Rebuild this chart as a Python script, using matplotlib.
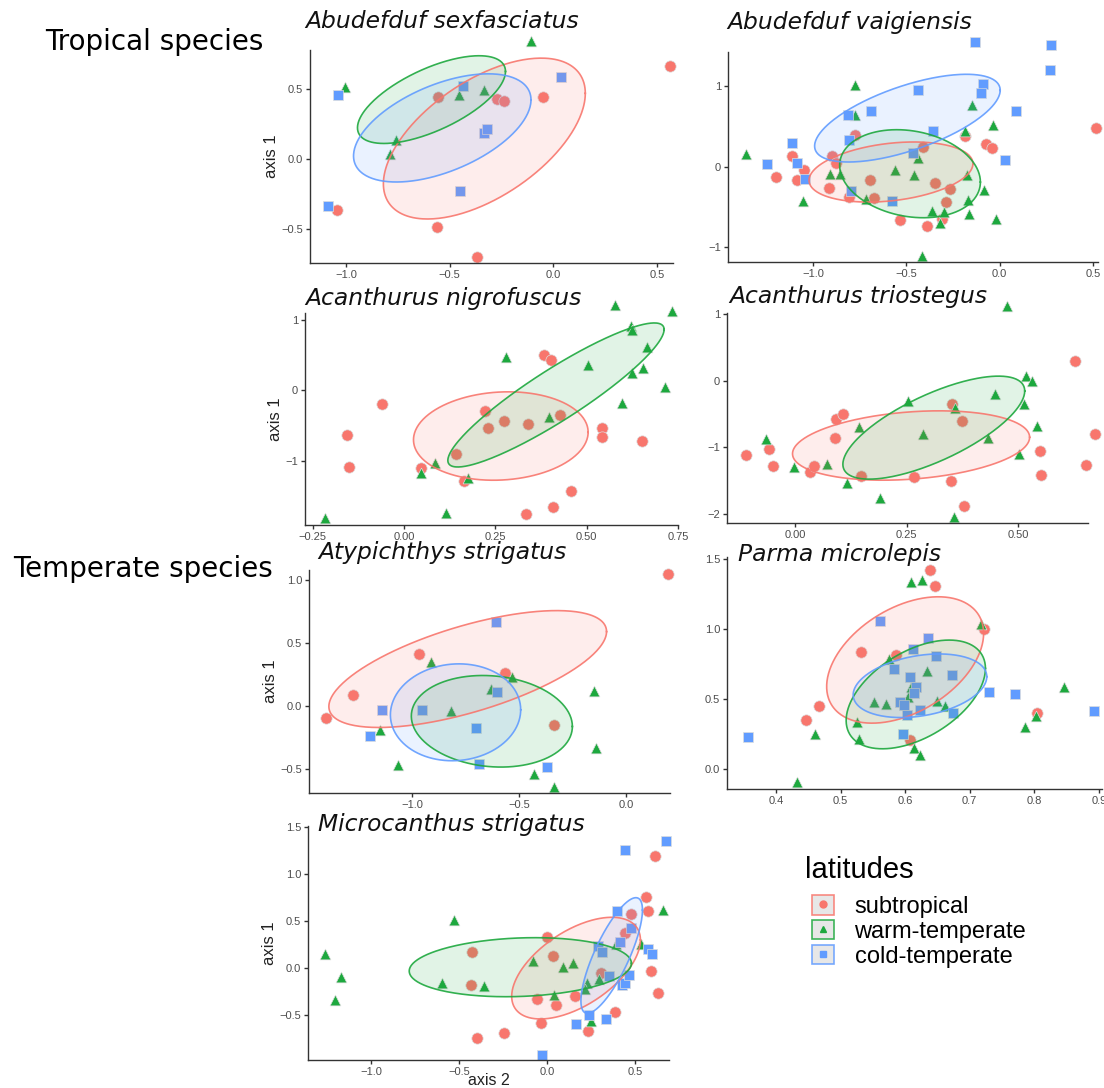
import numpy as np
import matplotlib
matplotlib.use("Agg")
import matplotlib.pyplot as plt
from matplotlib.patches import Patch
from matplotlib.lines import Line2D

plt.rcParams['font.family'] = ['Liberation Sans', 'DejaVu Sans']

W, H = 1104, 1088
groups = ['subtropical', 'warm-temperate', 'cold-temperate']
colors = ['#F8766D', '#1DA83E', '#619CFF']
markers = ['o', '^', 's']

# --- Abudefduf sexfasciatus ---
sexf_sub = [(0.563, 0.663), (-0.555, 0.443), (-0.273, 0.433), (-0.236, 0.416), (-0.051, 0.447),
            (-1.042, -0.361), (-0.563, -0.483), (-0.370, -0.696)]
sexf_warm = [(-0.108, 0.847), (-1.003, 0.519), (-0.759, 0.136), (-0.788, 0.038), (-0.455, 0.457),
             (-0.333, 0.495)]
sexf_cold = [(-1.037, 0.457), (-1.085, -0.335), (-0.437, 0.524), (-0.336, 0.189), (-0.318, 0.215),
             (-0.450, -0.227), (0.037, 0.586)]
# ellipse: centre x, centre y, half width, half height, y offset at rightmost point
sexf_ell = [(-0.333, 0.148, 0.487, 0.574, 0.323), (-0.588, 0.426, 0.357, 0.313, 0.201),
            (-0.536, 0.224, 0.428, 0.386, 0.200)]

# --- Abudefduf vaigiensis ---
vaig_sub = [(0.514, 0.483), (-1.196, -0.128), (-1.112, 0.136), (-1.086, -0.169), (-1.050, -0.037),
            (-0.898, 0.128), (-0.875, 0.045), (-0.914, -0.260), (-0.777, 0.388), (-0.807, -0.376),
            (-0.696, -0.169), (-0.673, -0.388), (-0.411, 0.244), (-0.536, -0.665), (-0.389, -0.736),
            (-0.345, -0.207), (-0.268, -0.273), (-0.286, -0.438), (-0.307, -0.653), (-0.187, 0.380),
            (-0.075, 0.277), (-0.039, 0.231)]
vaig_warm = [(-1.357, 0.161), (-0.777, 1.008), (-0.777, 0.645), (-1.054, -0.430), (-0.911, -0.087),
             (-0.857, -0.095), (-0.714, -0.405), (-0.559, -0.045), (-0.439, 0.107), (-0.457, -0.107),
             (-0.150, 0.769), (-0.186, 0.438), (-0.036, 0.517), (-0.175, -0.107), (-0.082, -0.293),
             (-0.168, -0.417), (-0.164, -0.583), (-0.364, -0.550), (-0.300, -0.558), (-0.318, -0.694),
             (-0.018, -0.653), (-0.414, -1.103)]
vaig_cold = [(-0.130, 1.541), (0.273, 1.504), (0.268, 1.194), (-0.437, 0.946), (-0.089, 1.029),
             (-0.098, 0.913), (-0.687, 0.694), (-0.812, 0.645), (0.089, 0.690), (-0.357, 0.442),
             (-0.807, 0.326), (-1.112, 0.293), (-0.464, 0.174), (-1.246, 0.033), (-1.086, 0.050),
             (-1.041, -0.149), (0.027, 0.087), (-0.796, -0.302), (-0.579, -0.430)]
vaig_ell = [(-0.582, -0.066, 0.439, 0.372, 0.103), (-0.480, -0.087, 0.377, 0.545, -0.103),
            (-0.494, 0.601, 0.497, 0.543, 0.345)]

# --- Acanthurus nigrofuscus ---
nigr_sub = [(-0.061, -0.199), (-0.157, -0.629), (-0.150, -1.092), (0.046, -1.106), (0.141, -0.913),
            (0.165, -1.296), (0.223, -0.288), (0.231, -0.534), (0.274, -0.440), (0.339, -0.478),
            (0.383, 0.506), (0.403, 0.435), (0.426, -0.355), (0.541, -0.530), (0.541, -0.662),
            (0.652, -0.728), (0.457, -1.437), (0.408, -1.664), (0.335, -1.768)]
nigr_warm = [(-0.215, -1.816), (0.047, -1.173), (0.085, -1.031), (0.114, -1.754), (0.175, -1.248),
             (0.280, 0.478), (0.397, -0.374), (0.505, 0.364), (0.577, 1.225), (0.620, 0.927),
             (0.623, 0.870), (0.623, 0.255), (0.665, 0.619), (0.655, 0.317), (0.597, -0.180),
             (0.715, 0.052), (0.734, 1.130)]
nigr_ell = [(0.265, -0.650, 0.239, 0.631, 0.054), (0.416, -0.064, 0.296, 1.028, 0.934), None]

# --- Acanthurus triostegus ---
trio_sub = [(-0.110, -1.123), (-0.059, -1.023), (-0.050, -1.282), (0.034, -1.371), (0.043, -1.282),
            (0.090, -0.859), (0.092, -0.576), (0.108, -0.502), (0.148, -1.436), (0.266, -1.446),
            (0.351, -0.348), (0.375, -0.601), (0.350, -1.510), (0.378, -1.878), (0.549, -1.063),
            (0.552, -1.411), (0.628, 0.303), (0.653, -1.272), (0.672, -0.800)]
trio_warm = [(-0.065, -0.874), (-0.002, -1.297), (0.071, -1.257), (0.117, -1.545), (0.144, -0.700),
             (0.190, -1.768), (0.252, -0.303), (0.287, -0.800), (0.358, -0.402), (0.357, -2.057),
             (0.433, -0.859), (0.448, -0.204), (0.475, 1.128), (0.513, -0.353), (0.519, 0.070),
             (0.532, -0.005), (0.543, -0.686), (0.502, -1.098)]
trio_ell = [(0.260, -0.974, 0.266, 0.522, 0.124), (0.311, -0.705, 0.204, 0.775, 0.551), None]

# --- Atypichthys strigatus ---
atyp_sub = [(-1.406, -0.095), (-1.278, 0.084), (-0.969, 0.411), (-0.566, 0.263), (-0.336, -0.147),
            (0.195, 1.042)]
atyp_warm = [(-0.914, 0.350), (-1.153, -0.192), (-1.066, -0.466), (-0.817, -0.039), (-0.630, 0.132),
             (-0.534, 0.234), (-0.433, -0.537), (-0.336, -0.637), (-0.152, 0.118), (-0.142, -0.332)]
atyp_cold = [(-1.197, -0.239), (-1.141, -0.029), (-0.955, -0.029), (-0.703, -0.174), (-0.602, 0.111),
             (-0.609, 0.668), (-0.688, -0.458), (-0.372, -0.479)]
atyp_ell = [(-0.741, 0.293, 0.650, 0.462, 0.296), (-0.628, -0.120, 0.377, 0.362, -0.041),
            (-0.798, -0.049, 0.305, 0.383, 0.020)]

# --- Parma microlepis ---
parm_sub = [(0.446, 0.351), (0.466, 0.453), (0.531, 0.838), (0.586, 0.817), (0.638, 1.419),
            (0.647, 1.305), (0.722, 0.999), (0.607, 0.209), (0.805, 0.404)]
parm_warm = [(0.433, -0.095), (0.460, 0.252), (0.525, 0.335), (0.529, 0.216), (0.552, 0.477),
             (0.570, 0.465), (0.575, 0.783), (0.604, 0.513), (0.609, 1.332), (0.609, 0.589),
             (0.626, 1.348), (0.614, 0.150), (0.623, 0.102), (0.634, 0.700), (0.650, 0.487),
             (0.661, 0.451), (0.718, 1.035), (0.786, 0.297), (0.802, 0.380), (0.846, 0.589)]
parm_cold = [(0.356, 0.228), (0.561, 1.054), (0.583, 0.717), (0.592, 0.482), (0.598, 0.458),
             (0.603, 0.387), (0.596, 0.252), (0.607, 0.660), (0.612, 0.859), (0.617, 0.589),
             (0.614, 0.541), (0.623, 0.423), (0.636, 0.933), (0.648, 0.809), (0.673, 0.672),
             (0.674, 0.399), (0.730, 0.548), (0.770, 0.536), (0.893, 0.413)]
parm_ell = [(0.600, 0.779, 0.1216, 0.451, 0.190), (0.6165, 0.533, 0.1079, 0.388, 0.186),
            (0.623, 0.595, 0.1035, 0.227, 0.065)]

# --- Microcanthus strigatus ---
micr_sub = [(-0.396, -0.742), (-0.243, -0.689), (-0.425, 0.170), (-0.432, -0.177), (0.000, 0.336),
            (0.034, 0.131), (-0.057, -0.329), (-0.038, -0.576), (0.049, -0.389), (0.155, -0.293),
            (0.228, -0.661), (0.304, -0.053), (0.385, -0.459), (0.440, 0.378), (0.472, 0.572),
            (0.557, 0.760), (0.572, 0.611), (0.587, -0.025), (0.608, 1.191), (0.628, -0.258)]
micr_warm = [(-1.258, 0.152), (-1.170, -0.092), (-1.202, -0.336), (-0.528, 0.512), (-0.596, -0.155),
             (-0.360, -0.184), (-0.081, 0.078), (0.036, -0.283), (0.091, 0.018), (0.147, 0.053),
             (0.223, -0.152), (0.213, -0.219), (0.247, -0.558), (0.291, -0.117), (0.387, 0.258),
             (0.530, 0.258), (0.657, 0.615)]
micr_cold = [(-0.032, -0.919), (0.160, -0.590), (0.236, -0.491), (0.330, -0.541), (0.285, 0.240),
             (0.309, 0.173), (0.347, -0.081), (0.396, 0.608), (0.413, 0.279), (0.425, -0.180),
             (0.443, -0.152), (0.462, -0.067), (0.477, 0.424), (0.443, 1.254), (0.572, 0.208),
             (0.594, 0.148), (0.675, 1.350)]
micr_ell = [(0.163, 0.002, 0.365, 0.539, 0.299), (-0.153, 0.012, 0.630, 0.313, 0.041),
            (0.365, 0.136, 0.1745, 0.613, 0.482)]

# panel: title, points per group, ellipses, axes box (px), xlim, ylim, xticks, yticks, title pos
panels = [
    ("Abudefduf sexfasciatus", [sexf_sub, sexf_warm, sexf_cold], sexf_ell, (310, 50, 673, 263),
     (-1.174, 0.577), (-0.74, 0.78), [-1.0, -0.5, 0.0, 0.5], [-0.5, 0.0, 0.5], "%.1f", "%.1f", (305, 22)),
    ("Abudefduf vaigiensis", [vaig_sub, vaig_warm, vaig_cold], vaig_ell, (728, 52, 1098, 262),
     (-1.455, 0.527), (-1.18, 1.42), [-1.0, -0.5, 0.0, 0.5], [-1, 0, 1], "%.1f", "%d", (727, 22)),
    ("Acanthurus nigrofuscus", [nigr_sub, nigr_warm, []], nigr_ell, (305, 313, 678, 525),
     (-0.271, 0.747), (-1.92, 1.106), [-0.25, 0.0, 0.25, 0.5, 0.75], [-1, 0, 1], "%.2f", "%d", (305, 298)),
    ("Acanthurus triostegus", [trio_sub, trio_warm, []], trio_ell, (727, 313, 1088, 523),
     (-0.153, 0.657), (-2.14, 1.02), [0.0, 0.25, 0.5], [-2, -1, 0, 1], "%.2f", "%d", (729, 297)),
    ("Atypichthys strigatus", [atyp_sub, atyp_warm, atyp_cold], atyp_ell, (309, 570, 670, 793),
     (-1.484, 0.206), (-0.687, 1.076), [-1.0, -0.5, 0.0], [-0.5, 0.0, 0.5, 1.0], "%.1f", "%.1f", (318, 552)),
    ("Parma microlepis", [parm_sub, parm_warm, parm_cold], parm_ell, (727, 557, 1102, 789),
     (0.324, 0.905), (-0.142, 1.514), [0.4, 0.5, 0.6, 0.7, 0.8, 0.9], [0.0, 0.5, 1.0, 1.5], "%.1f", "%.1f", (738, 555)),
    ("Microcanthus strigatus", [micr_sub, micr_warm, micr_cold], micr_ell, (308, 826, 669, 1060),
     (-1.357, 0.69), (-0.972, 1.509), [-1.0, -0.5, 0.0, 0.5], [-0.5, 0.0, 0.5, 1.0, 1.5], "%.1f", "%.1f", (318, 825)),
]


def draw_ellipse(ax, e, color):
    cx, cy, hx, hy, ry = e
    t = np.linspace(0, 2 * np.pi, 300)
    l22 = np.sqrt(max(hy ** 2 - ry ** 2, 0.0))
    x = cx + hx * np.cos(t)
    y = cy + ry * np.cos(t) + l22 * np.sin(t)
    ax.fill(x, y, facecolor=color, alpha=0.13, edgecolor='none', zorder=3)
    ax.plot(x, y, color=color, lw=1.2, alpha=0.9, zorder=4)


fig = plt.figure(figsize=(W / 100, H / 100), dpi=100)

for k, (title, pts, ells, box, xl, yl, xt, yt, xf, yf, tpos) in enumerate(panels):
    x0, y0, x1, y1 = box
    ax = fig.add_axes([x0 / W, 1 - y1 / H, (x1 - x0) / W, (y1 - y0) / H])
    for g in range(3):
        if pts[g]:
            arr = np.array(pts[g])
            ms = 66 if markers[g] == 'o' else 60
            ax.scatter(arr[:, 0], arr[:, 1], s=ms, marker=markers[g], color=colors[g],
                       edgecolors='#dddddd', linewidths=0.5, zorder=2, clip_on=False)
        if ells[g] is not None:
            draw_ellipse(ax, ells[g], colors[g])
    ax.set_xlim(*xl)
    ax.set_ylim(*yl)
    ax.set_xticks(xt)
    ax.set_yticks(yt)
    ax.set_xticklabels([(xf % v).replace('-', '\u2212') for v in xt])
    ax.set_yticklabels([(yf % v).replace('-', '\u2212') for v in yt])
    ax.tick_params(colors='#333333', labelcolor='#4d4d4d', labelsize=8, length=3, width=1, pad=2)
    for s in ['top', 'right']:
        ax.spines[s].set_visible(False)
    for s in ['left', 'bottom']:
        ax.spines[s].set_color('#333333')
        ax.spines[s].set_linewidth(1)
    ax.patch.set_alpha(0)
    if k % 2 == 0:
        ax.set_ylabel('axis 1', fontsize=12, color='#222222', labelpad=2)
    if k == 6:
        ax.set_xlabel('axis 2', fontsize=11.5, color='#222222', labelpad=-3)
    fig.text(tpos[0] / W, 1 - tpos[1] / H, title, fontsize=16.8, style='italic',
             family='DejaVu Sans', color='#111111', va='center', ha='left')

fig.text(45 / W, 1 - 42 / H, 'Tropical species', fontsize=20, family='DejaVu Sans',
         va='center', ha='left')
fig.text(13 / W, 1 - 569 / H, 'Temperate species', fontsize=20, family='DejaVu Sans',
         va='center', ha='left')

# legend
fig.text(805 / W, 1 - 870 / H, 'latitudes', fontsize=21, va='center', ha='left')
handles = []
for g in range(3):
    box_h = Patch(facecolor='#e3e3e3', edgecolor=colors[g], linewidth=1.2, alpha=0.85)
    mk = Line2D([], [], marker=markers[g], color=colors[g], linestyle='none', markersize=5)
    handles.append((box_h, mk))
leg = fig.legend(handles, groups, loc='upper left',
                 bbox_to_anchor=(812 / W, 1 - 895 / H), frameon=False, fontsize=17,
                 handlelength=0.95, handleheight=0.9, labelspacing=0.08,
                 handletextpad=0.85, borderaxespad=0, borderpad=0)

fig.savefig('out.png', dpi=100)
